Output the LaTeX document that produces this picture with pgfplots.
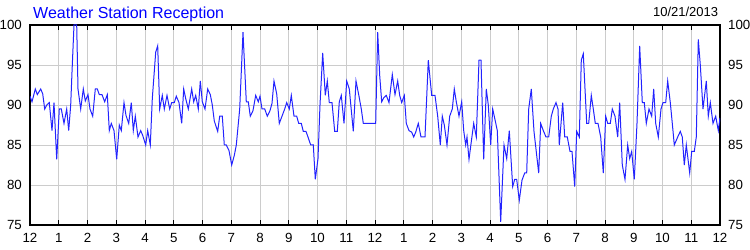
\documentclass[border=0pt]{standalone}
\usepackage{fontspec}
\setmainfont{Liberation Sans}
\usepackage{pgfplots}
\pgfplotsset{compat=1.18}
\definecolor{lineblue}{RGB}{35,35,255}
\definecolor{gridgray}{RGB}{204,204,204}
\begin{document}
\begin{tikzpicture}
\path[use as bounding box] (-30bp,-25bp) rectangle (720bp,225bp);
\begin{axis}[
 at={(0,0)}, anchor=south west,
 scale only axis, width=690bp, height=200bp,
 xmin=0, xmax=690, ymin=75, ymax=100,
 xtick={0,28.75,57.5,86.25,115,143.75,172.5,201.25,230,258.75,287.5,316.25,345,373.75,402.5,431.25,460,488.75,517.5,546.25,575,603.75,632.5,661.25,690},
 xticklabels={12,1,2,3,4,5,6,7,8,9,10,11,12,1,2,3,4,5,6,7,8,9,10,11,12},
 ytick={75,80,85,90,95,100},
 grid=major, major grid style={gridgray, line width=0.8bp},
 axis line style={black, line width=1.1bp},
 xtick pos=both, tick align=inside,
 major tick length=5bp,
 ytick style={draw=none},
 xtick style={black, line width=1bp},
 tick label style={font=\fontsize{13.3bp}{15bp}\selectfont, inner sep=0pt},
 xticklabel shift=8bp, yticklabel shift=8bp,
 /pgf/number format/assume math mode=true,
]
\addplot[lineblue, line width=1bp] table {
0 91.1
2 90.4
5.3 92.0
7.3 91.3
10.7 92.0
12.7 91.4
14.7 89.5
16.7 90.0
19.3 90.3
22 86.8
24 90.3
26.7 83.2
29.3 89.5
31.3 89.5
34 87.7
36.7 89.5
38.7 86.8
40.7 90.0
42 94.1
44 100
46.7 100
48 92.0
50.7 89.5
53.3 92.0
55.3 90.5
58 91.3
60 89.5
62.7 88.6
65.3 92.0
67.3 92.0
69.3 91.3
72 91.3
74.7 90.4
77.3 91.3
79.3 86.8
81.3 87.7
84 86.8
86.7 83.2
89.3 87.5
91.3 86.8
94 90.3
96 88.7
98.7 87.7
101.3 90.3
103.3 86.8
105.3 88.6
108 86.0
110.7 86.8
112.7 86.2
115.7 85.0
117.7 86.8
120.3 85.0
122.3 90.8
125.7 96.6
127.7 97.4
129.7 89.5
132.3 91.2
134.3 89.5
137 91.2
139.7 89.5
141.7 90.3
144.3 90.3
146.3 91.1
149 90.3
151.7 87.7
153.7 92.0
155.7 90.8
158.3 89.5
161.7 92.0
163.7 90.4
165.7 91.2
168.3 89.5
170.3 93.0
172.3 90.4
175 89.5
177.7 92.0
180.3 91.3
182.3 90.0
184.3 88.0
187.7 86.7
189.7 88.6
192.3 88.6
194.3 85.0
196.3 85.0
199 84.3
201.7 82.5
204.3 83.7
206.3 85.0
209.7 89.5
213 99.1
216.3 90.4
218.3 90.4
220.3 88.6
223 89.3
225.7 91.2
228.3 90.4
230 91.1
232 89.5
234.7 89.5
237.3 88.6
240 89.3
242 90.2
244 93.0
246.7 91.4
249.3 87.7
252 88.6
254.7 89.5
256.7 90.3
259.3 89.5
261.3 91.2
264 88.6
266.7 88.6
268.7 87.7
271.3 87.7
273.3 86.7
276 86.7
278 86.0
280.7 85.0
283.3 85.0
285.3 80.7
288 83.3
290 90.0
292.7 96.5
295.3 91.2
297.3 93.0
299.3 90.3
302 90.3
304.7 86.7
307.3 86.7
309.3 90.4
311.3 91.2
314 87.7
316.7 93.0
319.3 92.0
323.3 86.7
326 93.0
328.7 91.3
331.3 89.5
333.3 87.7
345.7 87.7
347.7 99.1
349.7 93.7
351.7 90.4
353.7 90.9
356.3 91.2
359 90.3
362.3 93.8
365 91.3
367.7 93.0
369.7 91.2
371.7 90.3
374.3 91.2
376.3 87.7
379 86.8
381.7 86.6
383.7 86.0
385.7 86.6
388.3 87.7
391 86.0
395 86.0
398.3 95.6
401.7 91.2
405 91.2
407.7 88.6
410.3 85.0
412.3 88.6
414.3 87.5
417 85.0
419.7 88.6
422.3 89.5
424.3 92.0
426.3 90.4
429 88.6
431.7 90.4
433.7 86.8
435.7 85.0
437 86.0
439 83.2
441.7 85.8
443.7 87.7
446.3 86.0
449 95.6
451 95.6
453.7 83.2
456.3 92.0
458.3 90.0
460.7 85.0
462.7 89.5
465.3 88.0
467.3 86.8
470.7 75.4
474 85.0
476.7 83.3
479.3 86.8
482.7 79.8
484.7 80.7
486.7 80.7
489.3 78.1
492 80.6
494.7 81.5
496.7 81.5
498.7 89.5
501.3 92.0
504 86.7
506.7 83.7
508.7 81.5
510.7 87.7
513.3 86.8
516 86.0
518.7 86.0
521.3 88.6
523.3 89.5
526 90.3
528 89.5
529.3 85.0
532.7 90.3
534.7 86.0
537.3 86.0
540 84.2
542 84.2
544.7 79.8
546.7 86.7
549.3 86.0
551.3 95.6
553.3 96.4
556.7 87.7
558.7 87.7
561.3 91.2
563.3 89.5
565.3 87.7
568 87.7
570.7 86.0
573.3 81.5
575.7 88.6
577.7 87.7
580.3 87.7
582.3 89.5
585 88.6
587.7 86.0
589.7 90.3
592.3 82.5
595 80.7
597.7 85.0
599.7 83.3
601.7 84.2
604.3 80.7
607 87.7
609.7 97.4
612.3 90.3
614.3 90.3
616.3 87.7
619 89.5
621.7 88.6
623.7 92.0
625.7 87.7
628.3 86.0
631 89.5
633 90.3
635.7 90.3
637.7 93.0
640.3 90.3
642.3 87.7
644.3 85.0
647.7 86.0
650.3 86.7
652.3 86.0
654.3 82.5
656.3 85.0
659.7 81.5
661.7 84.2
664.3 84.2
666.3 86.0
668.3 98.2
670.3 95.0
673 89.5
676.3 93.0
678.3 88.6
680.3 90.3
683 87.7
685.7 88.6
688.3 86.8
690 88.4
};
\end{axis}
\begin{axis}[
 at={(0,0)}, anchor=south west,
 scale only axis, width=690bp, height=200bp,
 xmin=0, xmax=690, ymin=75, ymax=100,
 xtick=\empty, ytick={75,80,85,90,95,100},
 yticklabel pos=right,
 axis line style={draw=none},
 ytick style={draw=none},
 tick label style={font=\fontsize{13.3bp}{15bp}\selectfont, inner sep=0pt},
 yticklabel shift=8bp,
 /pgf/number format/assume math mode=true,
]
\end{axis}
\node[anchor=base west, inner sep=0pt, text=blue, font=\fontsize{16bp}{18bp}\selectfont] at (3bp,206.7bp) {Weather Station Reception};
\node[anchor=base east, inner sep=0pt, font=\fontsize{13bp}{15bp}\selectfont] at (688.3bp,208.3bp) {10/21/2013};
\end{tikzpicture}
\end{document}
